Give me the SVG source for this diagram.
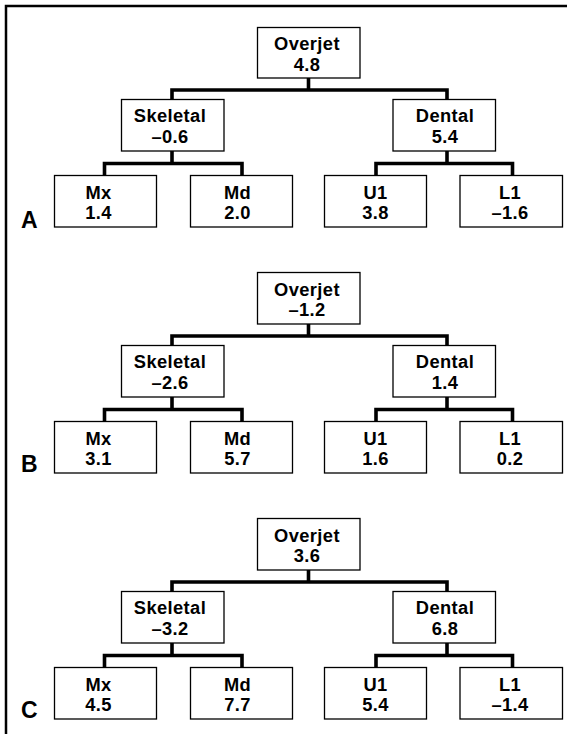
<svg xmlns="http://www.w3.org/2000/svg" width="574" height="734" viewBox="0 0 574 734">
<style>
.box{fill:#fff;stroke:#000;stroke-width:1.3}
.con{fill:none;stroke:#000;stroke-width:3.6;stroke-linejoin:miter;stroke-linecap:butt}
text{font-family:"Liberation Sans",Arial,Helvetica,sans-serif;font-weight:bold;fill:#000}
.t{font-size:18.3px;letter-spacing:0.4px;text-anchor:middle}
.lab{font-size:23px}
.frame{fill:none;stroke:#000;stroke-width:2.5}
</style>
<rect width="574" height="734" fill="#fff"/>
<path class="frame" d="M6,734 V6 H567"/>

<!-- Panel A -->
<g id="panelA">
<g id="connectors-A">
<path class="con" d="M308.5,78 V90"/>
<path class="con" d="M172,99.5 V90 H447 V99.5"/>
<path class="con" d="M172,151 V163.5"/>
<path class="con" d="M104.5,175.5 V163.5 H242 V175.5"/>
<path class="con" d="M447,151 V163.5"/>
<path class="con" d="M376,175.5 V163.5 H512.5 V175.5"/>
</g>
<g id="A-overjet"><rect class="box" x="257.5" y="27.5" width="102.5" height="50.5"/><text class="t"><tspan x="307" y="50">Overjet</tspan><tspan x="307" y="70.5">4.8</tspan></text></g>
<g id="A-skeletal"><rect class="box" x="121.5" y="99.5" width="102.5" height="51.5"/><text class="t"><tspan x="170" y="122.3">Skeletal</tspan><tspan x="170" y="142.8">–0.6</tspan></text></g>
<g id="A-dental"><rect class="box" x="393" y="99.5" width="102.5" height="51.5"/><text class="t"><tspan x="445" y="122.3">Dental</tspan><tspan x="445" y="142.8">5.4</tspan></text></g>
<g id="A-mx"><rect class="box" x="54.5" y="175.5" width="102" height="51.5"/><text class="t"><tspan x="98.5" y="198.5">Mx</tspan><tspan x="98.5" y="219">1.4</tspan></text></g>
<g id="A-md"><rect class="box" x="190.5" y="175.5" width="102" height="51.5"/><text class="t"><tspan x="237.5" y="198.5">Md</tspan><tspan x="237.5" y="219">2.0</tspan></text></g>
<g id="A-u1"><rect class="box" x="324.5" y="175.5" width="102" height="51.5"/><text class="t"><tspan x="375.5" y="198.5">U1</tspan><tspan x="375.5" y="219">3.8</tspan></text></g>
<g id="A-l1"><rect class="box" x="460" y="175.5" width="102.5" height="51.5"/><text class="t"><tspan x="510" y="198.5">L1</tspan><tspan x="510" y="219">–1.6</tspan></text></g>
<text class="lab" x="21" y="228">A</text>
</g>

<!-- Panel B -->
<g id="panelB" transform="translate(0,246)">
<g id="connectors-B">
<path class="con" d="M308.5,78 V90"/>
<path class="con" d="M172,99.5 V90 H447 V99.5"/>
<path class="con" d="M172,151 V163.5"/>
<path class="con" d="M104.5,175.5 V163.5 H242 V175.5"/>
<path class="con" d="M447,151 V163.5"/>
<path class="con" d="M376,175.5 V163.5 H512.5 V175.5"/>
</g>
<g id="B-overjet"><rect class="box" x="257.5" y="26.5" width="102.5" height="51.5"/><text class="t"><tspan x="307" y="49.5">Overjet</tspan><tspan x="307" y="70">–1.2</tspan></text></g>
<g id="B-skeletal"><rect class="box" x="121.5" y="99.5" width="102.5" height="51.5"/><text class="t"><tspan x="170" y="122.3">Skeletal</tspan><tspan x="170" y="142.8">–2.6</tspan></text></g>
<g id="B-dental"><rect class="box" x="393" y="99.5" width="102.5" height="51.5"/><text class="t"><tspan x="445" y="122.3">Dental</tspan><tspan x="445" y="142.8">1.4</tspan></text></g>
<g id="B-mx"><rect class="box" x="54.5" y="175.5" width="102" height="51.5"/><text class="t"><tspan x="98.5" y="198.5">Mx</tspan><tspan x="98.5" y="219">3.1</tspan></text></g>
<g id="B-md"><rect class="box" x="190.5" y="175.5" width="102" height="51.5"/><text class="t"><tspan x="237.5" y="198.5">Md</tspan><tspan x="237.5" y="219">5.7</tspan></text></g>
<g id="B-u1"><rect class="box" x="324.5" y="175.5" width="102" height="51.5"/><text class="t"><tspan x="375.5" y="198.5">U1</tspan><tspan x="375.5" y="219">1.6</tspan></text></g>
<g id="B-l1"><rect class="box" x="460" y="175.5" width="102.5" height="51.5"/><text class="t"><tspan x="510" y="198.5">L1</tspan><tspan x="510" y="219">0.2</tspan></text></g>
<text class="lab" x="21" y="226">B</text>
</g>

<!-- Panel C -->
<g id="panelC" transform="translate(0,492)">
<g id="connectors-C">
<path class="con" d="M308.5,78 V90"/>
<path class="con" d="M172,99.5 V90 H447 V99.5"/>
<path class="con" d="M172,151 V163.5"/>
<path class="con" d="M104.5,175.5 V163.5 H242 V175.5"/>
<path class="con" d="M447,151 V163.5"/>
<path class="con" d="M376,175.5 V163.5 H512.5 V175.5"/>
</g>
<g id="C-overjet"><rect class="box" x="257.5" y="26.5" width="102.5" height="51.5"/><text class="t"><tspan x="307" y="49.5">Overjet</tspan><tspan x="307" y="70">3.6</tspan></text></g>
<g id="C-skeletal"><rect class="box" x="121.5" y="99.5" width="102.5" height="51.5"/><text class="t"><tspan x="170" y="122.3">Skeletal</tspan><tspan x="170" y="142.8">–3.2</tspan></text></g>
<g id="C-dental"><rect class="box" x="393" y="99.5" width="102.5" height="51.5"/><text class="t"><tspan x="445" y="122.3">Dental</tspan><tspan x="445" y="142.8">6.8</tspan></text></g>
<g id="C-mx"><rect class="box" x="54.5" y="175.5" width="102" height="51.5"/><text class="t"><tspan x="98.5" y="198.5">Mx</tspan><tspan x="98.5" y="219">4.5</tspan></text></g>
<g id="C-md"><rect class="box" x="190.5" y="175.5" width="102" height="51.5"/><text class="t"><tspan x="237.5" y="198.5">Md</tspan><tspan x="237.5" y="219">7.7</tspan></text></g>
<g id="C-u1"><rect class="box" x="324.5" y="175.5" width="102" height="51.5"/><text class="t"><tspan x="375.5" y="198.5">U1</tspan><tspan x="375.5" y="219">5.4</tspan></text></g>
<g id="C-l1"><rect class="box" x="460" y="175.5" width="102.5" height="51.5"/><text class="t"><tspan x="510" y="198.5">L1</tspan><tspan x="510" y="219">–1.4</tspan></text></g>
<text class="lab" x="21" y="226">C</text>
</g>
</svg>
